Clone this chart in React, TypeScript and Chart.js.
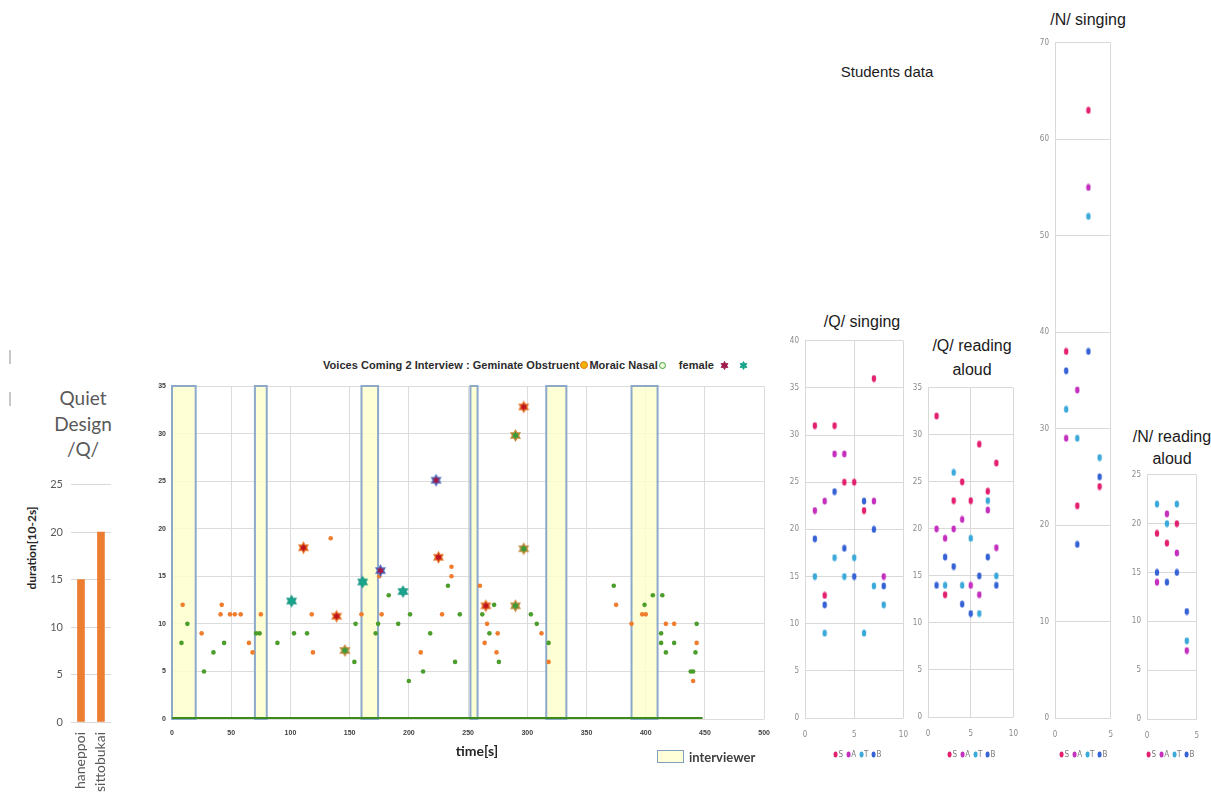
import React, { useEffect, useRef } from "react";
import { Chart, registerables } from "chart.js";

Chart.register(...registerables);

// ---------- Quiet Design /Q/ : word durations ----------
const wordLabels = ["haneppoi", "sittobukai"];
const wordDurations = [15, 20];
const wordTicks = [0, 5, 10, 15, 20, 25];

// ---------- Voices Coming 2 interview timeline ----------
// [time s, duration 10^-2 s]
const geminateDots: [number, number][] = [
  [9, 12], [25, 9], [41, 11], [42, 12], [49, 11], [53, 11], [58, 11], [65, 8], [68, 7], [75, 11],
  [118, 11], [119, 7], [134, 19], [160, 11], [175, 15], [177, 11], [210, 7], [228, 11], [236, 16],
  [236, 15], [260, 14], [264, 8], [266, 10], [274, 7], [275, 9], [312, 9], [318, 6], [375, 12],
  [388, 10], [397, 11], [400, 11], [417, 10], [424, 10], [440, 4], [443, 8],
];
const moraicDots: [number, number][] = [
  [8, 8], [13, 10], [27, 5], [35, 7], [44, 8], [71, 9], [74, 9], [89, 8], [103, 9], [114, 9],
  [154, 6], [155, 10], [172, 9], [174, 10], [183, 13], [191, 10], [200, 4], [201, 11], [212, 5],
  [218, 9], [233, 14], [239, 6], [243, 11], [262, 11], [268, 9], [272, 12], [276, 6], [303, 11],
  [308, 10], [318, 8], [373, 14], [399, 12], [406, 13], [413, 9], [413, 8], [414, 13], [417, 7],
  [424, 8], [438, 5], [440, 5], [442, 7], [443, 10],
];
const redStars: [number, number][] = [[111, 18], [139, 10.8], [225, 17], [265, 11.9], [297, 32.8]];
const greenStars: [number, number][] = [[146, 7.2], [290, 29.8], [297, 17.9], [290, 11.9]];
const tealStars: [number, number][] = [[101, 12.4], [161, 14.4], [195, 13.4]];
const maroonStars: [number, number][] = [[176, 15.6], [223, 25.1]];
const interviewerStart = [0, 70, 160, 252, 316, 388];
const interviewerEnd = [20, 80, 174, 258, 333, 410];
const recordingEnd = 448;

// ---------- Students data: [singer number, duration] ----------
const qSingS: [number, number][] = [[1, 31], [2, 13], [3, 31], [4, 25], [5, 25], [6, 22], [7, 36]];
const qSingA: [number, number][] = [[1, 22], [2, 23], [3, 28], [4, 28], [7, 23], [8, 15]];
const qSingT: [number, number][] = [[1, 15], [2, 9], [3, 17], [4, 15], [5, 17], [6, 9], [7, 14], [8, 12]];
const qSingB: [number, number][] = [[1, 19], [2, 12], [3, 24], [4, 18], [5, 15], [6, 23], [7, 20], [8, 14]];

const qReadS: [number, number][] = [[1, 32], [2, 13], [3, 23], [4, 25], [5, 23], [6, 29], [7, 24], [8, 27]];
const qReadA: [number, number][] = [[1, 20], [2, 19], [3, 20], [4, 21], [5, 14], [6, 13], [7, 22], [8, 18]];
const qReadT: [number, number][] = [[2, 14], [3, 26], [4, 14], [5, 19], [6, 11], [7, 23], [8, 15]];
const qReadB: [number, number][] = [[1, 14], [2, 17], [3, 16], [4, 12], [5, 11], [6, 15], [7, 17], [8, 14]];

const nSingS: [number, number][] = [[1, 38], [2, 22], [3, 63], [4, 24]];
const nSingA: [number, number][] = [[1, 29], [2, 34], [3, 55]];
const nSingT: [number, number][] = [[1, 32], [2, 29], [3, 52], [4, 27]];
const nSingB: [number, number][] = [[1, 36], [2, 18], [3, 38], [4, 25]];

const nReadS: [number, number][] = [[1, 19], [2, 18], [3, 20]];
const nReadA: [number, number][] = [[1, 14], [2, 21], [3, 17], [4, 7]];
const nReadT: [number, number][] = [[1, 22], [2, 20], [3, 22], [4, 8]];
const nReadB: [number, number][] = [[1, 15], [2, 14], [3, 15], [4, 11]];

const voiceParts = ["S", "A", "T", "B"];
const voiceColors = ["#E3206F", "#C42FBE", "#3BA9D9", "#3562D4"];

// ---------- helpers ----------
const toXY = (pts: [number, number][]) => pts.map(([x, y]) => ({ x, y }));

function hexagramPath(cx: number, cy: number, r: number): [number, number][] {
  const pts: [number, number][] = [];
  for (let i = 0; i < 12; i++) {
    const a = -Math.PI / 2 + (i * Math.PI) / 6;
    const rad = i % 2 === 0 ? r : r * 0.577;
    pts.push([cx + rad * Math.cos(a), cy + rad * Math.sin(a)]);
  }
  return pts;
}

function starImage(fill: string, stroke: string, r: number): HTMLCanvasElement {
  const size = Math.ceil(r * 2 + 4);
  const c = document.createElement("canvas");
  c.width = size;
  c.height = size;
  const ctx = c.getContext("2d")!;
  const pts = hexagramPath(size / 2, size / 2, r);
  ctx.beginPath();
  pts.forEach(([x, y], i) => (i === 0 ? ctx.moveTo(x, y) : ctx.lineTo(x, y)));
  ctx.closePath();
  ctx.fillStyle = fill;
  ctx.fill();
  ctx.strokeStyle = stroke;
  ctx.lineWidth = 1.2;
  ctx.stroke();
  return c;
}

function ovalImage(color: string): HTMLCanvasElement {
  const c = document.createElement("canvas");
  c.width = 6;
  c.height = 8;
  const ctx = c.getContext("2d")!;
  ctx.beginPath();
  ctx.ellipse(3, 4, 2.2, 3.4, 0, 0, Math.PI * 2);
  ctx.fillStyle = color;
  ctx.fill();
  return c;
}

const fixWidth = (w: number) => (scale: any) => {
  scale.width = w;
};
const fixHeight = (h: number) => (scale: any) => {
  scale.height = h;
};

const baseOptions = (padTop: number, padRight: number) => ({
  animation: false as const,
  responsive: false,
  devicePixelRatio: 1,
  events: [] as any[],
  layout: { padding: { top: padTop, right: padRight, left: 0, bottom: 0 }, autoPadding: false },
  plugins: { legend: { display: false }, tooltip: { enabled: false }, title: { display: false } },
});

// light-yellow boxes showing when the interviewer speaks
const interviewerBands = {
  id: "interviewerBands",
  beforeDatasetsDraw(chart: any) {
    const { ctx, scales } = chart;
    const xs = scales.x;
    const ys = scales.y;
    ctx.save();
    interviewerStart.forEach((s, i) => {
      const x0 = xs.getPixelForValue(s);
      const x1 = xs.getPixelForValue(interviewerEnd[i]);
      const y0 = ys.getPixelForValue(ys.max);
      const y1 = ys.getPixelForValue(0);
      ctx.fillStyle = "rgba(255,255,205,0.82)";
      ctx.fillRect(x0, y0, x1 - x0, y1 - y0);
      ctx.strokeStyle = "#8DA9C9";
      ctx.lineWidth = 2;
      ctx.strokeRect(x0, y0, x1 - x0, y1 - y0);
    });
    ctx.restore();
  },
};

// ---------- chart configs ----------
function wordBarConfig() {
  return {
    type: "bar",
    data: {
      labels: wordLabels,
      datasets: [{ data: wordDurations, backgroundColor: "#ED7D31", barThickness: 7 }],
    },
    options: {
      ...baseOptions(10, 9),
      scales: {
        x: {
          grid: { display: false, drawTicks: false },
          border: { display: false },
          ticks: {
            minRotation: 90,
            maxRotation: 90,
            padding: 10,
            color: "#595959",
            font: { family: "Lato, 'Open Sans', sans-serif", size: 14 },
          },
          afterFit: fixHeight(78),
        },
        y: {
          min: wordTicks[0],
          max: wordTicks[wordTicks.length - 1],
          ticks: { stepSize: 5, padding: 8, color: "#595959", font: { family: "Lato, sans-serif", size: 11 } },
          grid: { color: "#d9d9d9", drawTicks: false },
          border: { display: false },
          afterFit: fixWidth(31),
        },
      },
    },
  };
}

function timelineConfig() {
  const tickFont = { family: "'Liberation Sans', Arial, sans-serif", size: 7, weight: "bold" as const };
  return {
    type: "scatter",
    data: {
      datasets: [
        { data: toXY(redStars), pointStyle: starImage("#C0161B", "#E8782A", 5.2), order: 0 },
        { data: toXY(maroonStars), pointStyle: starImage("#9E1B4B", "#4E6FC4", 5.2), order: 0 },
        { data: toXY(greenStars), pointStyle: starImage("#3E9B3A", "#C98A3A", 5.2), order: 0 },
        { data: toXY(tealStars), pointStyle: starImage("#17A58C", "#1E9A86", 5.2), order: 0 },
        { data: toXY(geminateDots), pointRadius: 2.3, backgroundColor: "#F07D2E", borderWidth: 0, order: 1 },
        { data: toXY(moraicDots), pointRadius: 2.3, backgroundColor: "#4C9E2C", borderWidth: 0, order: 1 },
        {
          type: "line",
          data: [{ x: 0, y: 0 }, { x: recordingEnd, y: 0 }],
          borderColor: "#3C8A1C",
          borderWidth: 4,
          pointRadius: 0,
          order: 2,
        },
      ],
    },
    options: {
      ...baseOptions(11, 10),
      scales: {
        x: {
          type: "linear",
          min: 0,
          max: 500,
          ticks: { stepSize: 50, padding: 10, color: "#404040", font: tickFont },
          grid: { color: "#dcdcdc", drawTicks: false },
          border: { display: false },
          afterFit: fixHeight(41),
        },
        y: {
          min: 0,
          max: 35,
          ticks: { stepSize: 5, padding: 6, color: "#404040", font: tickFont },
          grid: { color: "#dcdcdc", drawTicks: false },
          border: { display: false },
          afterFit: fixWidth(22),
        },
      },
    },
    plugins: [interviewerBands],
  };
}

function studentConfig(
  series: [number, number][][],
  xMax: number,
  yMax: number,
  yStep: number,
  yAxisWidth: number,
  padRight: number
) {
  const tickFont = { family: "'DejaVu Sans Condensed', 'Liberation Sans Narrow', sans-serif", size: 8 };
  return {
    type: "scatter",
    data: {
      datasets: series.map((pts, i) => ({
        data: toXY(pts),
        pointStyle: ovalImage(voiceColors[i]),
      })),
    },
    options: {
      ...baseOptions(10, padRight),
      scales: {
        x: {
          type: "linear",
          min: 0,
          max: xMax,
          ticks: { stepSize: 5, padding: 12, color: "#8a8a8a", font: tickFont },
          grid: { color: "#d9d9d9", drawTicks: false },
          border: { display: false },
          afterFit: fixHeight(25),
        },
        y: {
          min: 0,
          max: yMax,
          ticks: { stepSize: yStep, padding: 6, color: "#8a8a8a", font: tickFont },
          grid: { color: "#d9d9d9", drawTicks: false },
          border: { display: false },
          afterFit: fixWidth(yAxisWidth),
        },
      },
    },
  };
}

// ---------- components ----------
type BoxProps = { left: number; top: number; width: number; height: number; build: () => any };

function ChartBox({ left, top, width, height, build }: BoxProps) {
  const ref = useRef<HTMLCanvasElement>(null);
  useEffect(() => {
    const chart = new Chart(ref.current as HTMLCanvasElement, build());
    return () => chart.destroy();
  }, []);
  return (
    <canvas
      ref={ref}
      width={width}
      height={height}
      style={{ position: "absolute", left, top, width, height }}
    />
  );
}

type TextProps = {
  x: number;
  y: number;
  children: React.ReactNode;
  size?: number;
  color?: string;
  weight?: number | string;
  family?: string;
  anchor?: "center" | "left";
  rotate?: number;
};

function Text({
  x,
  y,
  children,
  size = 16,
  color = "#1a1a1a",
  weight = 400,
  family = "'Liberation Sans', Arial, sans-serif",
  anchor = "center",
  rotate = 0,
}: TextProps) {
  const tx = anchor === "center" ? "-50%" : "0";
  return (
    <div
      style={{
        position: "absolute",
        left: x,
        top: y,
        transform: `translate(${tx}, -50%) rotate(${rotate}deg)`,
        fontSize: size,
        fontWeight: weight as any,
        fontFamily: family,
        color,
        whiteSpace: "nowrap",
        lineHeight: 1,
      }}
    >
      {children}
    </div>
  );
}

function Hexagram({ fill, stroke, size = 9 }: { fill: string; stroke: string; size?: number }) {
  const pts = hexagramPath(size / 2, size / 2, size / 2 - 0.5)
    .map(([x, y]) => `${x.toFixed(2)},${y.toFixed(2)}`)
    .join(" ");
  return (
    <svg width={size} height={size} style={{ display: "inline-block", verticalAlign: "middle" }}>
      <polygon points={pts} fill={fill} stroke={stroke} strokeWidth={0.8} />
    </svg>
  );
}

function VoiceLegend({ x, y }: { x: number; y: number }) {
  return (
    <div
      style={{
        position: "absolute",
        left: x,
        top: y,
        transform: "translate(-50%, -50%)",
        display: "flex",
        alignItems: "center",
        fontFamily: "'DejaVu Sans Condensed', 'Liberation Sans Narrow', sans-serif",
        fontSize: 8,
        color: "#7a7a7a",
        whiteSpace: "nowrap",
      }}
    >
      {voiceParts.map((p, i) => (
        <span key={p} style={{ display: "inline-flex", alignItems: "center", marginRight: 3 }}>
          <span
            style={{
              display: "inline-block",
              width: 4,
              height: 6,
              borderRadius: "50%",
              background: voiceColors[i],
              marginRight: 1,
            }}
          />
          {p}
        </span>
      ))}
    </div>
  );
}

export default function App() {
  return (
    <div
      style={{
        position: "absolute",
        left: 0,
        top: 0,
        width: 1211,
        height: 800,
        overflow: "hidden",
        background: "#ffffff",
      }}
    >
      {/* slide edge marks */}
      <div style={{ position: "absolute", left: 9, top: 350, width: 2, height: 14, background: "#c8c8c8" }} />
      <div style={{ position: "absolute", left: 9, top: 392, width: 2, height: 14, background: "#c8c8c8" }} />

      {/* Quiet Design /Q/ */}
      <Text x={83} y={397} size={19} color="#595959" family="Lato, 'Open Sans', sans-serif">Quiet</Text>
      <Text x={83} y={423} size={19} color="#595959" family="Lato, 'Open Sans', sans-serif">Design</Text>
      <Text x={83} y={448} size={19} color="#595959" family="Lato, 'Open Sans', sans-serif">/Q/</Text>
      <Text x={32} y={548} size={12} weight={700} color="#262626" family="Lato, 'Open Sans', sans-serif" rotate={-90}>
        duration[10-2s]
      </Text>
      <ChartBox left={40} top={470} width={90} height={330} build={wordBarConfig} />

      {/* interview timeline */}
      <div
        style={{
          position: "absolute",
          left: 323,
          top: 358,
          height: 14,
          display: "flex",
          alignItems: "center",
          fontFamily: "'Liberation Sans', Arial, sans-serif",
          fontSize: 11,
          fontWeight: 700,
          letterSpacing: "0.05px",
          color: "#2b2b2b",
          whiteSpace: "nowrap",
        }}
      >
        <span>Voices Coming 2 Interview : Geminate Obstruent</span>
        <span
          style={{
            display: "inline-block",
            width: 6,
            height: 6,
            borderRadius: "50%",
            background: "#F4B400",
            border: "1px solid #E07A1F",
            margin: "0 1px",
          }}
        />
        <span>Moraic Nasal</span>
        <span
          style={{
            display: "inline-block",
            width: 5,
            height: 5,
            borderRadius: "50%",
            background: "#eef7d8",
            border: "1.5px solid #3FA03A",
            margin: "0 1px",
          }}
        />
        <span style={{ marginLeft: 12, marginRight: 6 }}>female</span>
        <Hexagram fill="#9E1B4B" stroke="#9E1B4B" />
        <span style={{ width: 10 }} />
        <Hexagram fill="#17A58C" stroke="#17A58C" />
      </div>
      <ChartBox left={150} top={375} width={630} height={385} build={timelineConfig} />
      <Text x={477} y={751} size={14} weight={700} color="#262626" family="Lato, 'Open Sans', sans-serif">
        time[s]
      </Text>
      <div
        style={{
          position: "absolute",
          left: 657,
          top: 750,
          width: 25,
          height: 11,
          background: "#FFFFD8",
          border: "1.5px solid #7F9FC0",
        }}
      />
      <Text x={689} y={757} size={13} weight={700} color="#404040" family="Lato, 'Open Sans', sans-serif" anchor="left">
        interviewer
      </Text>

      {/* Students data */}
      <Text x={887} y={71} size={15}>Students data</Text>

      <Text x={862} y={322} size={16}>/Q/ singing</Text>
      <ChartBox
        left={780}
        top={330}
        width={140}
        height={413}
        build={() => studentConfig([qSingS, qSingA, qSingT, qSingB], 10, 40, 5, 25, 7)}
      />
      <VoiceLegend x={859} y={754} />

      <Text x={972} y={346} size={16}>/Q/ reading</Text>
      <Text x={972} y={370} size={16}>aloud</Text>
      <ChartBox
        left={905}
        top={377}
        width={125}
        height={365}
        build={() => studentConfig([qReadS, qReadA, qReadT, qReadB], 10, 35, 5, 23, 8)}
      />
      <VoiceLegend x={973} y={754} />

      <Text x={1088} y={20} size={16}>/N/ singing</Text>
      <ChartBox
        left={1030}
        top={32}
        width={95}
        height={711}
        build={() => studentConfig([nSingS, nSingA, nSingT, nSingB], 5, 70, 10, 25, 7)}
      />
      <VoiceLegend x={1085} y={754} />

      <Text x={1172} y={437} size={16}>/N/ reading</Text>
      <Text x={1172} y={459} size={16}>aloud</Text>
      <ChartBox
        left={1125}
        top={464}
        width={86}
        height={280}
        build={() => studentConfig([nReadS, nReadA, nReadT, nReadB], 5, 25, 5, 22, 8)}
      />
      <VoiceLegend x={1172} y={754} />
    </div>
  );
}
